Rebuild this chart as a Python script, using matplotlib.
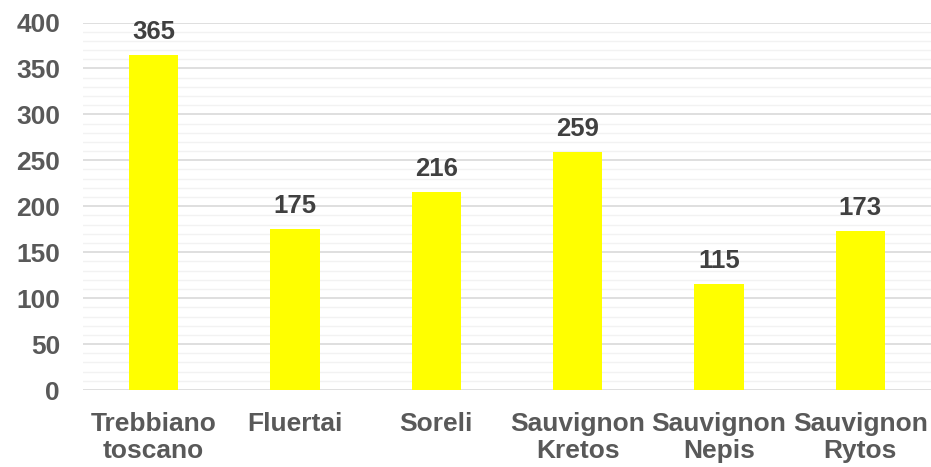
import numpy as np
import matplotlib
matplotlib.use("Agg")
import matplotlib.pyplot as plt

categories = ["Trebbiano\ntoscano", "Fluertai", "Soreli", "Sauvignon\nKretos", "Sauvignon\nNepis", "Sauvignon\nRytos"]
values = [365, 175, 216, 259, 115, 173]

plt.rcParams["font.family"] = ["Liberation Sans", "DejaVu Sans"]
plt.rcParams["font.weight"] = "bold"

fig = plt.figure(figsize=(9.31, 4.67), dpi=100)
ax = fig.add_axes([83 / 931, 1 - 390 / 467, 848 / 931, (390 - 22.5) / 467])

x = np.arange(len(categories))
ax.bar(x, values, width=0.35, color="#FFFF00", zorder=3)
for xi, v in zip(x, values):
    ax.annotate(str(v), (xi, v), xytext=(0, 11.5), textcoords="offset points",
                ha="center", va="baseline", fontsize=18.5,
                fontweight="bold", color="#404040")

ax.set_xlim(-0.5, len(categories) - 0.5)
ax.set_ylim(0, 400)
ax.set_yticks(np.arange(0, 401, 50))
ax.set_yticks(np.arange(0, 401, 10), minor=True)
ax.grid(axis="y", which="major", color="#D9D9D9", linewidth=1.2, zorder=0)
ax.grid(axis="y", which="minor", color="#F2F2F2", linewidth=1.0, zorder=0)
ax.set_xticks(x)
ax.set_xticklabels(categories, linespacing=1.2)
ax.tick_params(axis="both", which="both", length=0, labelsize=19, labelcolor="#595959")
ax.tick_params(axis="x", pad=15.5)
ax.tick_params(axis="y", pad=16.5)
for s in ax.spines.values():
    s.set_visible(False)

fig.savefig("out.png", dpi=100)
